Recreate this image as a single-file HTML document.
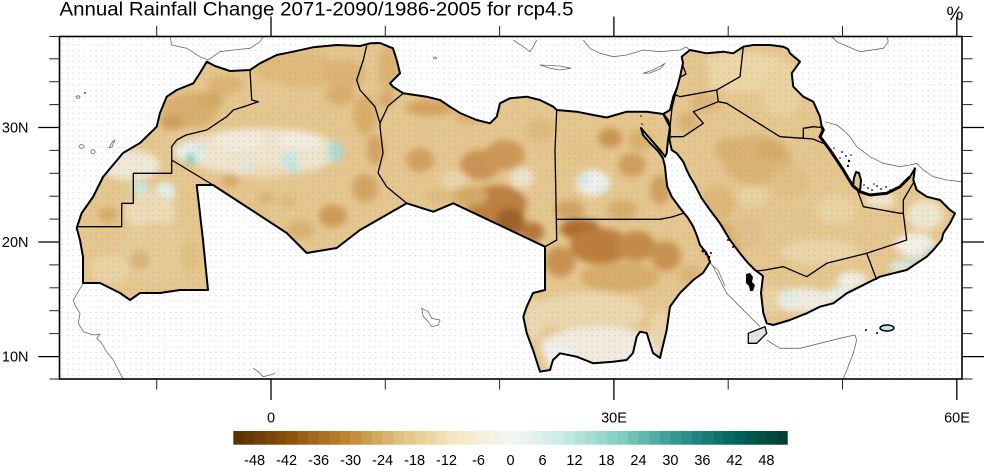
<!DOCTYPE html>
<html><head><meta charset="utf-8"><style>
html,body{margin:0;padding:0;background:#fff;}
svg{display:block;font-family:"Liberation Sans",Arial,sans-serif;}
</style></head><body>
<svg width="984" height="466" viewBox="0 0 984 466" xmlns="http://www.w3.org/2000/svg">
<defs>
<pattern id="dots" x="59.5" y="36.5" width="5.7" height="5.7" patternUnits="userSpaceOnUse">
<rect x="2" y="2" width="1" height="1" fill="#8f86aa" fill-opacity="0.55"/>
</pattern>
<filter id="blur" filterUnits="userSpaceOnUse" x="0" y="0" width="984" height="466">
<feGaussianBlur stdDeviation="3.5"/>
</filter>
<clipPath id="land">
<path id="afr" d="M206.7,61.7 L215,66 L230,71 L250,70 L260,63.3 L276.7,55 L293,51.7 L313,47.3 L336.7,45 L360,46 L370,43.3 L380,43 L393,48.3 L396.7,60 L400,73.3 L390,83.3 L393,86.7 L403.3,93.3 L426.7,96.7 L440,100 L450,106.7 L460,113 L476.7,120 L490,123.3 L496.7,116.7 L500,103.3 L510,98.3 L526.7,96.7 L540,100 L553.3,106.7 L556.7,110 L576.7,111.7 L593.3,115 L606.7,117.5 L626.7,111.7 L646.7,111.7 L663.3,114 L668,120 L670,127 L668,140 L666.7,153.3 L665,156.7 L660,150 L652,141 L645,133 L641,128 L643,135 L650,143 L658,151 L663,158.3 L665,166.7 L666,176.7 L667.3,186.7 L671.7,196.7 L680,208 L688,218 L693.3,226.7 L697,236 L700,245 L706.7,253.3 L710,262 L703,273 L693.3,280 L680,293 L670,306.7 L666.7,330 L660,358 L653,353 L646.7,333 L640,331.7 L636.7,336.7 L633,353 L626.7,360 L613,361.7 L593.3,363.3 L576.7,356.7 L560,353.3 L553,360 L550,370 L540,371.7 L533,350 L526.7,333 L523.3,316.7 L526.7,306.7 L533,293 L545,290 L545,246.7 L453.3,203.3 L433.3,211.7 L406.7,203.3 L360,230 L336.7,248 L306.7,253 L286.7,233 L213,185 L196.7,185 L203,240 L208,290 L180,290 L160,293 L140,293 L130,300 L120,293 L100,283 L83,283 L83,257 L80,240 L76.7,228 L81.7,213 L93,197 L103,177 L123,153 L140,143 L156.7,126.7 L160,113 L166.7,96.7 L176.7,90 L193.3,83.3 L200,73 Z"/>
<path id="arb" d="M663.3,114 L670,110 L673.3,96.7 L677,88 L680,77 L683,63 L681.7,56.7 L690,50 L706.7,53.3 L723.3,51.7 L733.3,53.3 L743.3,46.7 L753.3,45 L770,45 L783.3,46.7 L788,49 L790,53.3 L800,61.7 L791.7,73.3 L793.3,86.7 L803.3,96.7 L813.3,101.7 L820,116.7 L821.7,126.7 L823.3,130 L820,136.7 L825,143.3 L830,150 L836.7,160 L843.3,170 L848,178 L853,186 L854,178 L856,172 L859,173 L861,180 L860,191.7 L870,195 L886.7,193.3 L900,186.7 L910,176.7 L915,168.3 L913.3,180 L916.7,190 L926.7,196.7 L940,200 L950,210 L955,213.3 L950,223.3 L943.3,233.3 L941.7,240 L933.3,250 L926.7,256.7 L916.7,263.3 L906.7,270 L893.3,273.3 L880,276.7 L873.3,280 L860,286.7 L846.7,293.3 L833.3,303.3 L820,306.7 L806.7,313.3 L790,320 L773.3,325 L766.7,323.3 L763.3,313 L761,293 L763,276 L755,270 L748,263 L740,253.3 L730,240 L720,223.3 L710,210 L701.7,198.3 L698.3,191.7 L695,185 L690,176.7 L686.7,170 L683.3,161.7 L676.7,153.3 L671.7,150 L669.5,140 L670,127 Z"/>
</clipPath>
</defs>

<rect width="984" height="466" fill="#fff"/>

<!-- heatmap -->
<g clip-path="url(#land)">
<rect x="59" y="36" width="904" height="344" fill="#e5c68e"/>
<g filter="url(#blur)">
<!-- Morocco -->
<ellipse cx="190" cy="110" rx="28" ry="18" fill="#d8b06d"/>
<ellipse cx="172" cy="122" rx="12" ry="8" fill="#cf9e5c"/>
<ellipse cx="225" cy="85" rx="18" ry="10" fill="#dbb474"/>
<ellipse cx="210" cy="100" rx="14" ry="8" fill="#d4a865"/>
<ellipse cx="190" cy="136" rx="15" ry="5" fill="#e8cf9d"/>
<!-- Algeria -->
<ellipse cx="300" cy="70" rx="45" ry="18" fill="#e0ba7c"/>
<ellipse cx="345" cy="75" rx="20" ry="15" fill="#dcb373"/>
<ellipse cx="340" cy="95" rx="15" ry="10" fill="#d9ae6c"/>
<ellipse cx="270" cy="92" rx="20" ry="10" fill="#e6c891"/>
<ellipse cx="262" cy="152" rx="78" ry="24" fill="#efe4cc"/>
<ellipse cx="240" cy="140" rx="25" ry="10" fill="#f2ebdc"/>
<ellipse cx="300" cy="140" rx="22" ry="8" fill="#f2ede2"/>
<ellipse cx="190" cy="152" rx="16" ry="10" fill="#e8f0ea"/>
<ellipse cx="268" cy="172" rx="18" ry="6" fill="#ecdab5"/>
<ellipse cx="230" cy="180" rx="8" ry="7" fill="#d5a968"/>
<ellipse cx="248" cy="167" rx="5" ry="4" fill="#cfeae5"/>
<ellipse cx="191" cy="159" rx="5" ry="6" fill="#7fccc0"/>
<ellipse cx="200" cy="148" rx="4" ry="4" fill="#c3e8e3"/>
<ellipse cx="290" cy="160" rx="9" ry="9" fill="#c3e8e3"/>
<ellipse cx="294" cy="170" rx="5" ry="4" fill="#b5e3dc"/>
<ellipse cx="335" cy="152" rx="8" ry="10" fill="#a8ddd5"/>
<ellipse cx="168" cy="190" rx="6" ry="4" fill="#cdebe7"/>
<ellipse cx="266" cy="198" rx="9" ry="6" fill="#dab477"/>
<ellipse cx="250" cy="215" rx="18" ry="10" fill="#e2c083"/>
<ellipse cx="288" cy="202" rx="8" ry="6" fill="#ddb97c"/>
<ellipse cx="333" cy="216" rx="14" ry="11" fill="#cc9a55"/>
<ellipse cx="300" cy="230" rx="14" ry="9" fill="#d9b070"/>
<ellipse cx="365" cy="188" rx="13" ry="14" fill="#d2a562"/>
<ellipse cx="365" cy="115" rx="12" ry="20" fill="#d9ad68"/>
<ellipse cx="375" cy="150" rx="8" ry="15" fill="#d2a362"/>
<!-- W Sahara / Mauritania -->
<ellipse cx="130" cy="165" rx="30" ry="15" fill="#efe8d6"/>
<ellipse cx="140" cy="188" rx="10" ry="6" fill="#c8e9e3"/>
<ellipse cx="165" cy="192" rx="10" ry="10" fill="#e5f0ec"/>
<ellipse cx="108" cy="215" rx="10" ry="8" fill="#d6ad6b"/>
<ellipse cx="150" cy="212" rx="25" ry="20" fill="#ecdcb5"/>
<ellipse cx="155" cy="252" rx="35" ry="30" fill="#e6cb96"/>
<ellipse cx="140" cy="260" rx="10" ry="10" fill="#d9b578"/>
<ellipse cx="190" cy="255" rx="10" ry="15" fill="#dfbf82"/>
<ellipse cx="110" cy="270" rx="20" ry="15" fill="#e9d3a3"/>
<!-- Tunisia -->
<ellipse cx="390" cy="70" rx="12" ry="25" fill="#dcb272"/>
<ellipse cx="386" cy="100" rx="8" ry="6" fill="#d4a766"/>
<!-- Libya -->
<ellipse cx="430" cy="108" rx="25" ry="8" fill="#d4a35f"/>
<ellipse cx="470" cy="118" rx="15" ry="6" fill="#dbb070"/>
<ellipse cx="420" cy="160" rx="14" ry="12" fill="#d1a05d"/>
<ellipse cx="455" cy="180" rx="14" ry="10" fill="#e8d5aa"/>
<ellipse cx="480" cy="165" rx="20" ry="15" fill="#c99352"/>
<ellipse cx="505" cy="155" rx="20" ry="15" fill="#cd9856"/>
<ellipse cx="522" cy="178" rx="12" ry="10" fill="#eee3c8"/>
<ellipse cx="497" cy="205" rx="30" ry="20" fill="#bd8040"/>
<ellipse cx="510" cy="222" rx="15" ry="14" fill="#9f6226"/>
<ellipse cx="532" cy="232" rx="12" ry="10" fill="#b57637"/>
<ellipse cx="470" cy="196" rx="18" ry="10" fill="#d6a865"/>
<ellipse cx="440" cy="196" rx="15" ry="8" fill="#dfbb7e"/>
<ellipse cx="540" cy="130" rx="15" ry="12" fill="#dfba7d"/>
<!-- Egypt -->
<ellipse cx="610" cy="138" rx="12" ry="10" fill="#c99552"/>
<ellipse cx="632" cy="165" rx="14" ry="12" fill="#d09e5b"/>
<ellipse cx="640" cy="140" rx="12" ry="10" fill="#d8ae6c"/>
<ellipse cx="580" cy="150" rx="15" ry="15" fill="#e2c388"/>
<ellipse cx="593" cy="183" rx="17" ry="13" fill="#eef1ec"/>
<ellipse cx="585" cy="180" rx="6" ry="5" fill="#c8e9e3"/>
<ellipse cx="601" cy="190" rx="6" ry="4" fill="#d6eeea"/>
<ellipse cx="660" cy="190" rx="10" ry="15" fill="#d0a05e"/>
<ellipse cx="570" cy="210" rx="15" ry="10" fill="#d0a463"/>
<ellipse cx="622" cy="210" rx="15" ry="10" fill="#d6ac6a"/>
<!-- Sudan -->
<ellipse cx="580" cy="229" rx="20" ry="10" fill="#ac6d2c"/>
<ellipse cx="600" cy="246" rx="30" ry="18" fill="#bb7d3b"/>
<ellipse cx="636" cy="246" rx="20" ry="15" fill="#c48b47"/>
<ellipse cx="666" cy="256" rx="15" ry="15" fill="#c89250"/>
<ellipse cx="560" cy="262" rx="15" ry="15" fill="#c99150"/>
<ellipse cx="620" cy="277" rx="40" ry="15" fill="#d7ad69"/>
<ellipse cx="690" cy="275" rx="12" ry="10" fill="#dbb577"/>
<ellipse cx="590" cy="312" rx="55" ry="20" fill="#ead7ae"/>
<ellipse cx="600" cy="347" rx="60" ry="20" fill="#f0ebde"/>
<ellipse cx="560" cy="357" rx="15" ry="15" fill="#eef0ec"/>
<ellipse cx="660" cy="330" rx="10" ry="20" fill="#e9d5ab"/>
<ellipse cx="535" cy="320" rx="10" ry="20" fill="#ead8b0"/>
<!-- Levant / Iraq -->
<ellipse cx="742" cy="72" rx="50" ry="20" fill="#ecd6a6"/>
<ellipse cx="782" cy="92" rx="20" ry="25" fill="#ead2a0"/>
<ellipse cx="700" cy="75" rx="10" ry="15" fill="#e3c48c"/>
<ellipse cx="705" cy="102" rx="15" ry="10" fill="#dcb576"/>
<ellipse cx="688" cy="122" rx="10" ry="10" fill="#d9b071"/>
<!-- Saudi -->
<ellipse cx="757" cy="160" rx="35" ry="25" fill="#dab473"/>
<ellipse cx="770" cy="150" rx="15" ry="10" fill="#d5ab68"/>
<ellipse cx="730" cy="150" rx="15" ry="12" fill="#d8b070"/>
<ellipse cx="790" cy="182" rx="20" ry="15" fill="#e0bf82"/>
<ellipse cx="718" cy="203" rx="18" ry="18" fill="#ddb878"/>
<ellipse cx="722" cy="242" rx="20" ry="20" fill="#d8af6c"/>
<ellipse cx="748" cy="232" rx="15" ry="15" fill="#e0c088"/>
<ellipse cx="752" cy="196" rx="15" ry="10" fill="#e9d2a2"/>
<ellipse cx="800" cy="220" rx="20" ry="12" fill="#e3c58d"/>
<ellipse cx="836" cy="210" rx="20" ry="15" fill="#ead2a3"/>
<ellipse cx="820" cy="252" rx="40" ry="12" fill="#ead5a8"/>
<ellipse cx="880" cy="200" rx="15" ry="8" fill="#f0e6cc"/>
<!-- Oman / Yemen -->
<ellipse cx="925" cy="215" rx="18" ry="15" fill="#eee6cf"/>
<ellipse cx="915" cy="245" rx="20" ry="12" fill="#f1efe6"/>
<ellipse cx="915" cy="262" rx="10" ry="4" fill="#b5e3dc"/>
<ellipse cx="900" cy="266" rx="10" ry="5" fill="#d6eeea"/>
<ellipse cx="930" cy="253" rx="6" ry="4" fill="#8cd2c7"/>
<ellipse cx="802" cy="300" rx="30" ry="12" fill="#f0ece0"/>
<ellipse cx="790" cy="298" rx="8" ry="5" fill="#d6eeea"/>
<ellipse cx="840" cy="295" rx="15" ry="8" fill="#e6f1ee"/>
<ellipse cx="771" cy="300" rx="8" ry="15" fill="#e8d2a3"/>
<ellipse cx="852" cy="280" rx="15" ry="8" fill="#f2efe6"/>
</g>
</g>

<!-- Djibouti & Socotra fills -->
<path d="M748.3,333.3 L756.7,330 L765,326.7 L766.7,333.3 L760,340 L756.7,343.3 L748.3,343.3 Z" fill="#dfe6e4" stroke="#000" stroke-width="1.3"/>
<ellipse cx="887" cy="328" rx="7" ry="3" fill="#c3e8e3" stroke="#000" stroke-width="1.5"/>

<!-- stipple dots -->
<rect x="59.5" y="36.5" width="902.5" height="342.5" fill="url(#dots)"/>

<!-- grey coastlines -->
<g fill="none" stroke="#6a6a6a" stroke-width="0.8" stroke-linejoin="round">
<polyline points="170,36.7 171.7,45 186.7,48.3 200,56.7 208.3,60 220,51.7 233.3,50 250,48.3 260,41.7 263.3,36.7"/>
<ellipse cx="78" cy="97" rx="2" ry="1.2"/>
<ellipse cx="85" cy="93" rx="0.8" ry="0.8"/>
<ellipse cx="81.5" cy="146.5" rx="2.5" ry="1.8"/>
<ellipse cx="93" cy="151.5" rx="2" ry="2"/>
<path d="M109,148 L113,141 L115,140 L112,147 Z"/>
<polyline points="83.3,283.3 73.3,300 75,305 80,313.3 78.3,323.3 83.3,331.7 93.3,335 100,334.3 96.7,338.3 101.7,343.3 106.7,351.7 113.3,360 118.3,370 123.3,379.3"/>
<polyline points="253.3,368.3 258.3,371.7 263.3,376.7 270,375 275,373.3"/>
<path d="M421.7,308.3 L428.3,311.7 L431.7,318.3 L440,320 L438.3,325 L431.7,326.7 L428.3,321.7 L423.3,316.7 Z"/>
<polyline points="513.3,40 523.3,46.7 530,51.7 533.3,46.7 536.7,40"/>
<path d="M540,65 L550,68.3 L560,70 L571,68.3 L560,66 L550,65.5 Z"/>
<polyline points="583.3,40 590,48.3 600,53.3 613.3,56.7 626.7,55 643.3,50 660,51.7 680,50 686,47 690,50"/>
<path d="M643.3,73.3 L653.3,70 L665,63.3 L660,69 L650,73 Z"/>
<ellipse cx="435" cy="58" rx="1.5" ry="1"/>
<polyline points="831.7,36.7 836.7,41.7 860,51.7 883.3,48.3 888.3,41.7 886.7,36.7"/>
<polyline points="825,121.7 836.7,125 843.3,130 850,136.7 856.7,146.7 870,156.7 883.3,163.3 900,166.7 910,165 916.7,163.3 923.3,170 933.3,176.7 946.7,180 961.5,181.7"/>
<polyline points="710,262 713.3,266.7 723.3,286.7 726.7,293.3 740,306.7 750,316.7 760,326.7"/>
<polyline points="712,265 718,270 725,286"/>
<polyline points="766.7,340 780,348.3 800,348.3 820,343.3 840,338.3 855,335 856.7,340 853.3,353.3 843.3,379"/>
</g>

<!-- island blobs -->
<g fill="#000">
<path d="M746,274 L750,273 L753,277 L752,282 L755,285 L753,291 L750,291 L749,286 L746,283 Z"/>
<circle cx="703" cy="251" r="1.4"/><circle cx="706" cy="254" r="1.2"/><circle cx="709" cy="257" r="1.3"/><circle cx="711" cy="253" r="1"/>
<circle cx="728" cy="240" r="1"/><circle cx="733" cy="247" r="1"/>
<circle cx="842" cy="152" r="0.9"/><circle cx="846" cy="156" r="0.9"/><circle cx="849" cy="161" r="1.2"/><circle cx="848" cy="166" r="1.1"/>
<circle cx="834" cy="148" r="0.8"/><circle cx="840" cy="158" r="0.8"/><circle cx="851" cy="155" r="0.8"/>
<circle cx="868" cy="188" r="0.9"/><circle cx="872" cy="190" r="0.9"/><circle cx="877" cy="186" r="0.9"/><circle cx="881" cy="189" r="0.9"/><circle cx="886" cy="187" r="0.9"/>
<circle cx="864" cy="185" r="0.8"/><circle cx="874" cy="184" r="0.8"/><circle cx="890" cy="190" r="0.8"/>
<circle cx="641" cy="116" r="0.8"/><circle cx="642" cy="124" r="0.8"/>
<circle cx="866" cy="330" r="1"/><circle cx="877" cy="333" r="1"/>
</g>

<!-- coast outlines -->
<g fill="none" stroke="#000" stroke-linejoin="round">
<use href="#afr" stroke-width="2"/>
<use href="#arb" stroke-width="2"/>
<polyline points="821.7,126.7 823.3,130 820,136.7 825,143.3 830,150 836.7,160 843.3,170 848,178 853,186 860,191.7 870,195 886.7,193.3 900,186.7 910,176.7" stroke-width="3"/>
</g>

<!-- internal borders -->
<g fill="none" stroke="#000" stroke-width="1.3" stroke-linejoin="round">
<polyline points="250,70 251.7,100 258.3,101.7 246,106 233.3,110 226.7,116.7 216.7,123.3 206.7,130 186,135 176.7,140 171.7,146.7 171.7,173.3 133.3,173.3 133.3,203.3 121.7,203.3 121.7,226.7 78.3,226.7"/>
<polyline points="171.7,160 213,185"/>
<polyline points="366.7,45.5 363.3,60 356.7,80 360,90 375,106.7 380,123.3"/>
<polyline points="380,123.3 388,106 403.3,93.3"/>
<polyline points="380,123.3 380,126.7 383,153 378,173 386.7,186.7 406.7,203.3"/>
<polyline points="556.7,110 555,150 556.7,240 545,246.7"/>
<polyline points="556.7,219.3 660,219.3 672,217 684,213"/>
<polyline points="677,88 672,108 670,127"/>
<polyline points="680.5,77 686,74 683,66"/>
<polyline points="676,95 680,96.7 716.7,90 740,76.7 743.3,46.7"/>
<polyline points="716.7,90 718.3,101.7 693.3,111.7 703.3,123.3 683.3,136.7 671.7,136.7 669.5,138"/>
<polyline points="718.3,101.7 726.7,103.3 780,136.7 803.3,138.3 803.3,128.3 813.3,126.7 821.7,127.5"/>
<polyline points="803.3,138.3 813,139 823.3,143.3"/>
<polyline points="857,189 863.3,206.7 900,213.3 903.3,213.3 903.3,200 908,192 913.3,183"/>
<polyline points="903.3,213.3 906.7,240 866.7,253.3 876.7,280"/>
<polyline points="757,271 765,270 783.3,266.7 806.7,276.7 826.7,263.3 866.7,253.3"/>
</g>

<!-- frame -->
<rect x="59.5" y="36.5" width="902.5" height="342.5" fill="none" stroke="#000" stroke-width="1.6"/>

<!-- ticks -->
<g stroke="#222" stroke-width="1">
<line x1="156.7" y1="26" x2="156.7" y2="36.5"/><line x1="156.7" y1="379" x2="156.7" y2="389.5"/>
<line x1="385.3" y1="26" x2="385.3" y2="36.5"/><line x1="385.3" y1="379" x2="385.3" y2="389.5"/>
<line x1="499.6" y1="26" x2="499.6" y2="36.5"/><line x1="499.6" y1="379" x2="499.6" y2="389.5"/>
<line x1="728.2" y1="26" x2="728.2" y2="36.5"/><line x1="728.2" y1="379" x2="728.2" y2="389.5"/>
<line x1="842.5" y1="26" x2="842.5" y2="36.5"/><line x1="842.5" y1="379" x2="842.5" y2="389.5"/>
<line x1="49.3" y1="58.8" x2="59.5" y2="58.8"/><line x1="962" y1="58.8" x2="972.5" y2="58.8"/>
<line x1="49.3" y1="81.7" x2="59.5" y2="81.7"/><line x1="962" y1="81.7" x2="972.5" y2="81.7"/>
<line x1="49.3" y1="104.6" x2="59.5" y2="104.6"/><line x1="962" y1="104.6" x2="972.5" y2="104.6"/>
<line x1="49.3" y1="150.4" x2="59.5" y2="150.4"/><line x1="962" y1="150.4" x2="972.5" y2="150.4"/>
<line x1="49.3" y1="173.3" x2="59.5" y2="173.3"/><line x1="962" y1="173.3" x2="972.5" y2="173.3"/>
<line x1="49.3" y1="196.2" x2="59.5" y2="196.2"/><line x1="962" y1="196.2" x2="972.5" y2="196.2"/>
<line x1="49.3" y1="219.1" x2="59.5" y2="219.1"/><line x1="962" y1="219.1" x2="972.5" y2="219.1"/>
<line x1="49.3" y1="264.9" x2="59.5" y2="264.9"/><line x1="962" y1="264.9" x2="972.5" y2="264.9"/>
<line x1="49.3" y1="287.8" x2="59.5" y2="287.8"/><line x1="962" y1="287.8" x2="972.5" y2="287.8"/>
<line x1="49.3" y1="310.7" x2="59.5" y2="310.7"/><line x1="962" y1="310.7" x2="972.5" y2="310.7"/>
<line x1="49.3" y1="333.6" x2="59.5" y2="333.6"/><line x1="962" y1="333.6" x2="972.5" y2="333.6"/>
<line x1="49.3" y1="379" x2="59.5" y2="379"/><line x1="962" y1="379" x2="972.5" y2="379"/>
<line x1="49.3" y1="36.5" x2="59.5" y2="36.5"/><line x1="962" y1="36.5" x2="972.5" y2="36.5"/>
</g>
<g stroke="#000" stroke-width="1.3">
<line x1="271" y1="16.5" x2="271" y2="36.5"/><line x1="271" y1="379" x2="271" y2="400"/>
<line x1="613.9" y1="16.5" x2="613.9" y2="36.5"/><line x1="613.9" y1="379" x2="613.9" y2="400"/>
<line x1="956.8" y1="16.5" x2="956.8" y2="36.5"/><line x1="956.8" y1="379" x2="956.8" y2="400"/>
<line x1="38.3" y1="127.5" x2="59.5" y2="127.5"/><line x1="962" y1="127.5" x2="984" y2="127.5"/>
<line x1="38.3" y1="242" x2="59.5" y2="242"/><line x1="962" y1="242" x2="984" y2="242"/>
<line x1="38.3" y1="356.6" x2="59.5" y2="356.6"/><line x1="962" y1="356.6" x2="984" y2="356.6"/>
</g>

<!-- labels -->
<g fill="#000">
<text x="59.5" y="15.5" font-size="19" textLength="514" lengthAdjust="spacingAndGlyphs">Annual Rainfall Change 2071-2090/1986-2005 for rcp4.5</text>
<text x="955" y="20" font-size="19" text-anchor="middle">%</text>
<text x="28.5" y="132.5" font-size="14.5" text-anchor="end">30N</text>
<text x="28.5" y="247" font-size="14.5" text-anchor="end">20N</text>
<text x="28.5" y="361.7" font-size="14.5" text-anchor="end">10N</text>
<text x="271" y="422.5" font-size="14.5" text-anchor="middle">0</text>
<text x="614" y="422.5" font-size="14.5" text-anchor="middle">30E</text>
<text x="957" y="422.5" font-size="14.5" text-anchor="middle">60E</text>
</g>

<!-- colorbar -->
<g transform="translate(233.3,431) scale(10.662,1)">
<rect x="0" width="1.03" height="13.7" fill="#593306"/>
<rect x="1" width="1.03" height="13.7" fill="#643906"/>
<rect x="2" width="1.03" height="13.7" fill="#6f4007"/>
<rect x="3" width="1.03" height="13.7" fill="#7a4608"/>
<rect x="4" width="1.03" height="13.7" fill="#844c09"/>
<rect x="5" width="1.03" height="13.7" fill="#8f540c"/>
<rect x="6" width="1.03" height="13.7" fill="#995d13"/>
<rect x="7" width="1.03" height="13.7" fill="#a3661a"/>
<rect x="8" width="1.03" height="13.7" fill="#ac6f20"/>
<rect x="9" width="1.03" height="13.7" fill="#b67927"/>
<rect x="10" width="1.03" height="13.7" fill="#c0822f"/>
<rect x="11" width="1.03" height="13.7" fill="#c68f3e"/>
<rect x="12" width="1.03" height="13.7" fill="#cc9b4d"/>
<rect x="13" width="1.03" height="13.7" fill="#d2a85d"/>
<rect x="14" width="1.03" height="13.7" fill="#d8b46c"/>
<rect x="15" width="1.03" height="13.7" fill="#dec17c"/>
<rect x="16" width="1.03" height="13.7" fill="#e3c989"/>
<rect x="17" width="1.03" height="13.7" fill="#e7d097"/>
<rect x="18" width="1.03" height="13.7" fill="#ecd7a4"/>
<rect x="19" width="1.03" height="13.7" fill="#f0dfb2"/>
<rect x="20" width="1.03" height="13.7" fill="#f5e6bf"/>
<rect x="21" width="1.03" height="13.7" fill="#f6eaca"/>
<rect x="22" width="1.03" height="13.7" fill="#f6ecd3"/>
<rect x="23" width="1.03" height="13.7" fill="#f6efdd"/>
<rect x="24" width="1.03" height="13.7" fill="#f5f1e7"/>
<rect x="25" width="1.03" height="13.7" fill="#f5f4f0"/>
<rect x="26" width="1.03" height="13.7" fill="#f1f4f4"/>
<rect x="27" width="1.03" height="13.7" fill="#e8f2f0"/>
<rect x="28" width="1.03" height="13.7" fill="#dff0ed"/>
<rect x="29" width="1.03" height="13.7" fill="#d6eeea"/>
<rect x="30" width="1.03" height="13.7" fill="#cdebe7"/>
<rect x="31" width="1.03" height="13.7" fill="#c3e8e3"/>
<rect x="32" width="1.03" height="13.7" fill="#b5e3dc"/>
<rect x="33" width="1.03" height="13.7" fill="#a8ddd5"/>
<rect x="34" width="1.03" height="13.7" fill="#9ad8ce"/>
<rect x="35" width="1.03" height="13.7" fill="#8cd2c7"/>
<rect x="36" width="1.03" height="13.7" fill="#7fccc0"/>
<rect x="37" width="1.03" height="13.7" fill="#70c2b6"/>
<rect x="38" width="1.03" height="13.7" fill="#62b7ad"/>
<rect x="39" width="1.03" height="13.7" fill="#53ada3"/>
<rect x="40" width="1.03" height="13.7" fill="#45a29a"/>
<rect x="41" width="1.03" height="13.7" fill="#369890"/>
<rect x="42" width="1.03" height="13.7" fill="#2c8e86"/>
<rect x="43" width="1.03" height="13.7" fill="#22857d"/>
<rect x="44" width="1.03" height="13.7" fill="#187c74"/>
<rect x="45" width="1.03" height="13.7" fill="#0e726a"/>
<rect x="46" width="1.03" height="13.7" fill="#046961"/>
<rect x="47" width="1.03" height="13.7" fill="#016058"/>
<rect x="48" width="1.03" height="13.7" fill="#01584f"/>
<rect x="49" width="1.03" height="13.7" fill="#015046"/>
<rect x="50" width="1.03" height="13.7" fill="#00483d"/>
<rect x="51" width="1" height="13.7" fill="#004034"/>
</g>
<g font-size="14.5" text-anchor="middle" fill="#000">
<text x="254.6" y="465">-48</text>
<text x="286.6" y="465">-42</text>
<text x="318.6" y="465">-36</text>
<text x="350.6" y="465">-30</text>
<text x="382.6" y="465">-24</text>
<text x="414.6" y="465">-18</text>
<text x="446.5" y="465">-12</text>
<text x="478.5" y="465">-6</text>
<text x="510.5" y="465">0</text>
<text x="542.5" y="465">6</text>
<text x="574.5" y="465">12</text>
<text x="606.5" y="465">18</text>
<text x="638.5" y="465">24</text>
<text x="670.4" y="465">30</text>
<text x="702.4" y="465">36</text>
<text x="734.4" y="465">42</text>
<text x="766.4" y="465">48</text>
</g>
</svg>
</body></html>
